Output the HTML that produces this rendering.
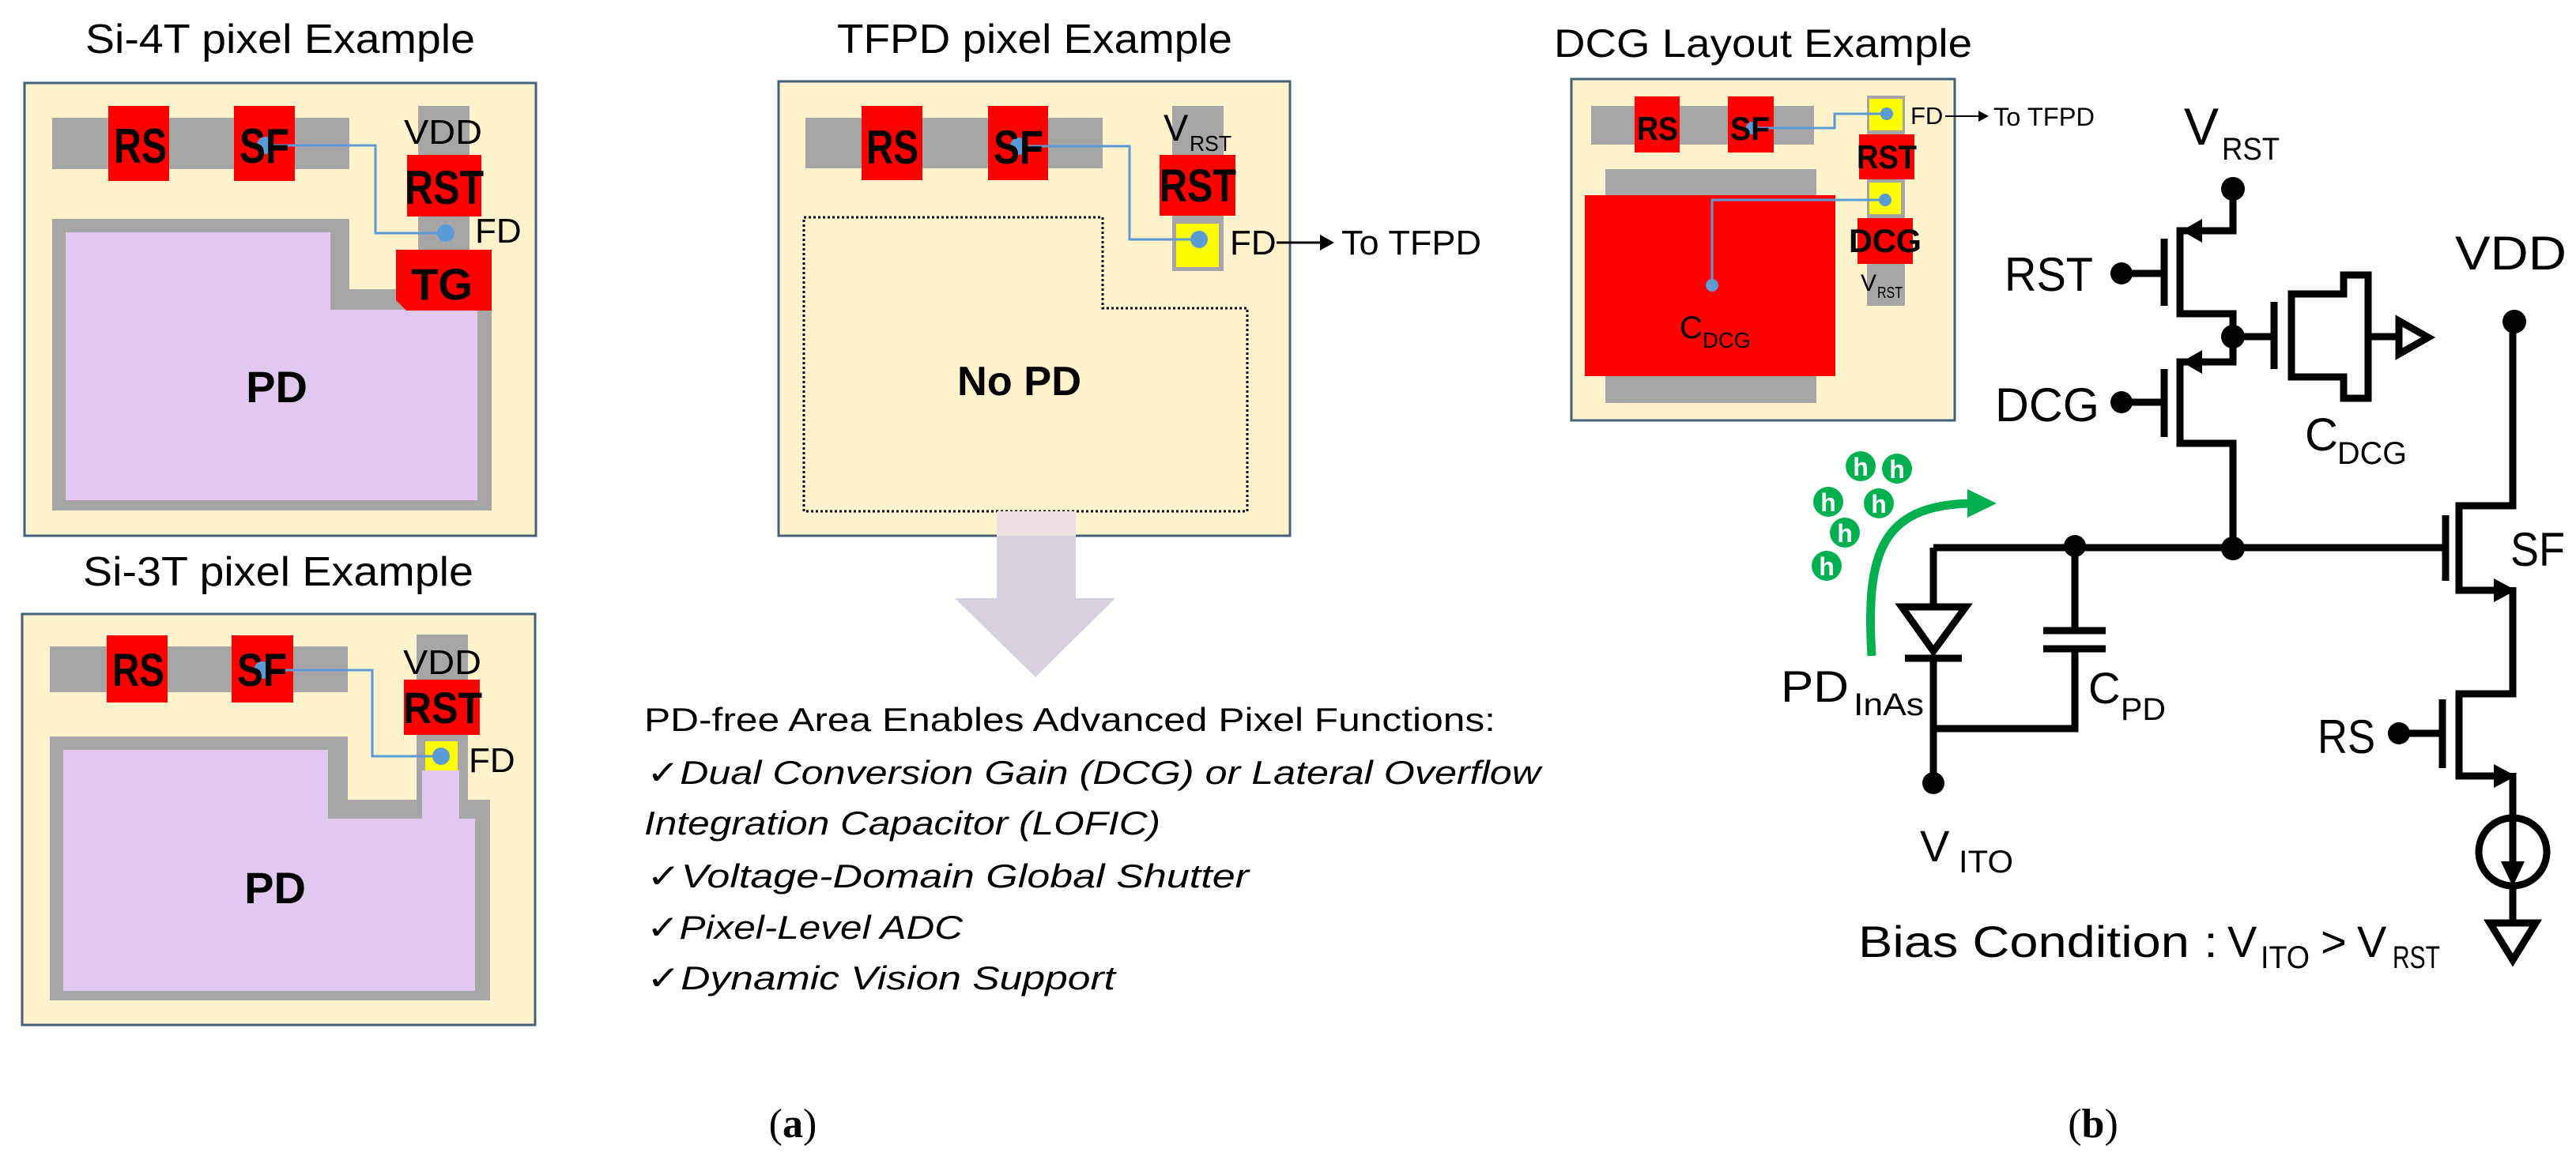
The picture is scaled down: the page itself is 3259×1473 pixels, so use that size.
<!DOCTYPE html>
<html><head><meta charset="utf-8"><style>
html,body{margin:0;padding:0;background:#fff;}
svg{display:block;}
text{font-family:"Liberation Sans","DejaVu Sans",sans-serif;fill:#000;}
.b{font-weight:bold;}
.it{font-style:italic;}
</style></head><body>
<svg width="3259" height="1473" viewBox="0 0 3259 1473" xmlns="http://www.w3.org/2000/svg">
<!-- ============ Si-4T ============ -->
<text x="108" y="67" font-size="52" textLength="493" lengthAdjust="spacingAndGlyphs">Si-4T pixel Example</text>
<rect x="31" y="105" width="647" height="573" fill="#fff2cc" stroke="#44607a" stroke-width="3"/>
<rect x="66" y="149" width="376" height="65" fill="#a6a6a6"/>
<rect x="137" y="134" width="77" height="95" fill="#ff0000"/>
<rect x="296" y="134" width="77" height="95" fill="#ff0000"/>
<rect x="529" y="134" width="65" height="182" fill="#a6a6a6"/>
<rect x="515" y="196" width="94" height="78" fill="#ff0000"/>
<polygon points="66,277 442,277 442,366 520,366 520,393 622,393 622,646 66,646" fill="#a6a6a6"/>
<polygon points="83,294 418,294 418,392 604,392 604,633 83,633" fill="#e0c8ee"/>
<polygon points="501,316 622,316 622,393 514,393 501,380" fill="#ff0000"/>
<polyline points="336,184 475,184 475,295 564,295" fill="none" stroke="#5b9bd5" stroke-width="3"/>
<circle cx="336" cy="184" r="11" fill="#5b9bd5"/><circle cx="564" cy="295" r="11" fill="#5b9bd5"/>
<text x="144" y="206" font-size="62" class="b" textLength="67" lengthAdjust="spacingAndGlyphs">RS</text>
<text x="303" y="206" font-size="62" class="b" textLength="63" lengthAdjust="spacingAndGlyphs">SF</text>
<text x="511" y="182" font-size="44" textLength="99" lengthAdjust="spacingAndGlyphs">VDD</text>
<text x="512" y="258" font-size="60" class="b" textLength="100" lengthAdjust="spacingAndGlyphs">RST</text>
<text x="601" y="307" font-size="44">FD</text>
<text x="559" y="379" font-size="56" class="b" text-anchor="middle">TG</text>
<text x="350" y="509" font-size="56" class="b" text-anchor="middle">PD</text>

<!-- ============ Si-3T ============ -->
<text x="105" y="741" font-size="52" textLength="494" lengthAdjust="spacingAndGlyphs">Si-3T pixel Example</text>
<rect x="28" y="777" width="649" height="520" fill="#fff2cc" stroke="#44607a" stroke-width="3"/>
<rect x="63" y="818" width="377" height="58" fill="#a6a6a6"/>
<rect x="135" y="804" width="77" height="85" fill="#ff0000"/>
<rect x="293" y="804" width="78" height="85" fill="#ff0000"/>
<rect x="527" y="803" width="65" height="209" fill="#a6a6a6"/>
<rect x="511" y="860" width="96" height="70" fill="#ff0000"/>
<polygon points="63,932 440,932 440,1012 620,1012 620,1266 63,1266" fill="#a6a6a6"/>
<polygon points="80,949 415,949 415,1036 534,1036 534,975 581,975 581,1036 601,1036 601,1254 80,1254" fill="#e0c8ee"/>
<rect x="538" y="938" width="41" height="37" fill="#ffff00"/>
<polyline points="332,848 471,848 471,957 558,957" fill="none" stroke="#5b9bd5" stroke-width="3"/>
<circle cx="332" cy="848" r="11" fill="#5b9bd5"/><circle cx="558" cy="957" r="11" fill="#5b9bd5"/>
<text x="142" y="868" font-size="58" class="b" textLength="66" lengthAdjust="spacingAndGlyphs">RS</text>
<text x="300" y="868" font-size="58" class="b" textLength="63" lengthAdjust="spacingAndGlyphs">SF</text>
<text x="510" y="853" font-size="44" textLength="99" lengthAdjust="spacingAndGlyphs">VDD</text>
<text x="510" y="915" font-size="56" class="b" textLength="100" lengthAdjust="spacingAndGlyphs">RST</text>
<text x="593" y="977" font-size="44">FD</text>
<text x="348" y="1143" font-size="56" class="b" text-anchor="middle">PD</text>

<!-- ============ TFPD ============ -->
<text x="1059" y="67" font-size="52" textLength="500" lengthAdjust="spacingAndGlyphs">TFPD pixel Example</text>
<rect x="985" y="103" width="647" height="575" fill="#fff2cc" stroke="#44607a" stroke-width="3"/>
<rect x="1019" y="149" width="376" height="64" fill="#a6a6a6"/>
<rect x="1090" y="134" width="77" height="94" fill="#ff0000"/>
<rect x="1250" y="134" width="76" height="94" fill="#ff0000"/>
<rect x="1483" y="134" width="65" height="209" fill="#a6a6a6"/>
<rect x="1467" y="196" width="96" height="77" fill="#ff0000"/>
<rect x="1488" y="283" width="54" height="55" fill="#ffff00"/>
<path d="M1017,275 H1395 V390 H1578 V647 H1017 Z" fill="none" stroke="#000" stroke-width="3" stroke-dasharray="3,3"/>
<polyline points="1289,185 1429,185 1429,303 1517,303" fill="none" stroke="#5b9bd5" stroke-width="3"/>
<circle cx="1289" cy="185" r="11" fill="#5b9bd5"/><circle cx="1517" cy="303" r="11" fill="#5b9bd5"/>
<text x="1096" y="207" font-size="60" class="b" textLength="66" lengthAdjust="spacingAndGlyphs">RS</text>
<text x="1257" y="207" font-size="60" class="b" textLength="63" lengthAdjust="spacingAndGlyphs">SF</text>
<text x="1467" y="255" font-size="58" class="b" textLength="97" lengthAdjust="spacingAndGlyphs">RST</text>
<text x="1472" y="178" font-size="47">V</text>
<text x="1505" y="191" font-size="28" textLength="53" lengthAdjust="spacingAndGlyphs">RST</text>
<text x="1556" y="322" font-size="44">FD</text>
<line x1="1615" y1="307" x2="1672" y2="307" stroke="#000" stroke-width="3"/>
<polygon points="1670,297 1688,307 1670,317" fill="#000"/>
<text x="1697" y="322" font-size="44" textLength="177" lengthAdjust="spacingAndGlyphs">To TFPD</text>
<text x="1211" y="500" font-size="52" class="b" textLength="157" lengthAdjust="spacingAndGlyphs">No PD</text>
<rect x="1261" y="647" width="100" height="31" fill="#eddfe1"/>
<polygon points="1261,678 1361,678 1361,757 1411,757 1310,857 1208,757 1261,757" fill="#d6d1de"/>

<!-- text list -->
<text x="815" y="925" font-size="42" textLength="1077" lengthAdjust="spacingAndGlyphs">PD-free Area Enables Advanced Pixel Functions:</text>
<text x="818" y="992" font-size="42" class="it" textLength="1131" lengthAdjust="spacingAndGlyphs">✓Dual Conversion Gain (DCG) or Lateral Overflow</text>
<text x="815" y="1056" font-size="42" class="it" textLength="653" lengthAdjust="spacingAndGlyphs">Integration Capacitor (LOFIC)</text>
<text x="818" y="1123" font-size="42" class="it" textLength="762" lengthAdjust="spacingAndGlyphs">✓Voltage-Domain Global Shutter</text>
<text x="818" y="1188" font-size="42" class="it" textLength="400" lengthAdjust="spacingAndGlyphs">✓Pixel-Level ADC</text>
<text x="818" y="1252" font-size="42" class="it" textLength="593" lengthAdjust="spacingAndGlyphs">✓Dynamic Vision Support</text>
<text x="1003" y="1439" font-size="52" text-anchor="middle" style="font-family:'Liberation Serif',serif">(<tspan font-weight="bold">a</tspan>)</text>
<text x="2648" y="1439" font-size="52" text-anchor="middle" style="font-family:'Liberation Serif',serif">(<tspan font-weight="bold">b</tspan>)</text>

<!-- ============ DCG layout ============ -->
<text x="1966" y="72" font-size="50" textLength="529" lengthAdjust="spacingAndGlyphs">DCG Layout Example</text>
<rect x="1988" y="100" width="485" height="432" fill="#fff2cc" stroke="#44607a" stroke-width="3"/>
<rect x="2013" y="134" width="282" height="49" fill="#a6a6a6"/>
<rect x="2068" y="122" width="57" height="71" fill="#ff0000"/>
<rect x="2186" y="122" width="58" height="71" fill="#ff0000"/>
<rect x="2362" y="121" width="48" height="266" fill="#a6a6a6"/>
<rect x="2365" y="125" width="42" height="40" fill="#ffff00"/>
<rect x="2352" y="170" width="70" height="57" fill="#ff0000"/>
<rect x="2365" y="231" width="40" height="40" fill="#ffff00"/>
<rect x="2350" y="276" width="70" height="58" fill="#ff0000"/>
<rect x="2031" y="214" width="267" height="296" fill="#a6a6a6"/>
<rect x="2005" y="247" width="317" height="229" fill="#ff0000"/>
<polyline points="2217,162 2321,162 2321,144 2387,144" fill="none" stroke="#5b9bd5" stroke-width="3"/>
<circle cx="2217" cy="162" r="8" fill="#5b9bd5"/><circle cx="2387" cy="144" r="8" fill="#5b9bd5"/>
<polyline points="2385,253 2166,253 2166,361" fill="none" stroke="#5b9bd5" stroke-width="3"/>
<circle cx="2385" cy="253" r="8" fill="#5b9bd5"/><circle cx="2166" cy="361" r="8" fill="#5b9bd5"/>
<text x="2071" y="177" font-size="42" class="b" textLength="52" lengthAdjust="spacingAndGlyphs">RS</text>
<text x="2189" y="177" font-size="42" class="b" textLength="50" lengthAdjust="spacingAndGlyphs">SF</text>
<text x="2349" y="213" font-size="42" class="b" textLength="76" lengthAdjust="spacingAndGlyphs">RST</text>
<text x="2339" y="319" font-size="42" class="b" textLength="92" lengthAdjust="spacingAndGlyphs">DCG</text>
<text x="2354" y="368" font-size="30">V</text>
<text x="2375" y="377" font-size="20" textLength="32" lengthAdjust="spacingAndGlyphs">RST</text>
<text x="2125" y="428" font-size="40">C</text>
<text x="2154" y="440" font-size="28" textLength="61" lengthAdjust="spacingAndGlyphs">DCG</text>
<text x="2417" y="157" font-size="31">FD</text>
<line x1="2461" y1="147" x2="2505" y2="147" stroke="#000" stroke-width="2"/>
<polygon points="2503,140 2516,147 2503,154" fill="#000"/>
<text x="2522" y="159" font-size="32" textLength="128" lengthAdjust="spacingAndGlyphs">To TFPD</text>

<!-- ============ Circuit ============ -->
<g fill="none" stroke="#000" stroke-width="9">
<path d="M2446,693 H3094"/>
<path d="M2446,693 V768"/>
<polygon points="2406,768 2487,768 2446,824"/>
<path d="M2410,833 H2482 M2446,833 V991"/>
<path d="M2625,693 V798 M2585,798 H2664 M2585,821 H2664 M2625,821 V922 H2446"/>
<path d="M2825,694 V561 H2758 V458 H2825 V426 V397 H2758 V292 H2825 V239"/>
<path d="M2738,302 V387 M2684,346 H2738 M2738,467 V553 M2684,509 H2738"/>
<path d="M2825,426 H2877 M2877,382 V467"/>
<path d="M2899,477 V372 H2965 V348 H2996 V504 H2965 V477 Z"/>
<path d="M2996,426 H3035"/>
<polygon points="3035,406 3072,427 3035,448"/>
<path d="M3179,407 V640 H3111 V747 H3170 M3179,743 V878 H3111 V982 H3170 M3179,978 V1035"/>
<path d="M3094,652 V735 M3090,885 V972 M3035,928 H3090"/>
<circle cx="3179" cy="1078" r="43"/>
<path d="M3179,1035 V1095 M3179,1121 V1168"/>
<polygon points="3150,1168 3208,1168 3179,1215"/>
</g>
<g fill="#000">
<polygon points="2760,292 2786,277 2786,307"/>
<polygon points="2760,458 2786,443 2786,473"/>
<polygon points="3183,747 3155,732 3155,762"/>
<polygon points="3183,982 3155,967 3155,997"/>
<polygon points="3164,1090 3194,1090 3179,1122"/>
<circle cx="2446" cy="991" r="14"/>
<circle cx="2625" cy="691" r="14"/>
<circle cx="2825" cy="694" r="15"/>
<circle cx="2825" cy="426" r="15"/>
<circle cx="2825" cy="239" r="15"/>
<circle cx="2684" cy="346" r="14"/>
<circle cx="2684" cy="509" r="14"/>
<circle cx="3181" cy="407" r="15"/>
<circle cx="3035" cy="928" r="14"/>
</g>
<!-- holes -->
<g fill="#00b050">
<circle cx="2354" cy="590" r="19"/><circle cx="2400" cy="593" r="19"/>
<circle cx="2313" cy="635" r="19"/><circle cx="2377" cy="637" r="19"/>
<circle cx="2334" cy="674" r="19"/><circle cx="2311" cy="716" r="19"/>
</g>
<g font-size="32" class="b" text-anchor="middle">
<text x="2354" y="602" style="fill:#fff">h</text><text x="2400" y="605" style="fill:#fff">h</text>
<text x="2313" y="647" style="fill:#fff">h</text><text x="2377" y="649" style="fill:#fff">h</text>
<text x="2334" y="686" style="fill:#fff">h</text><text x="2311" y="728" style="fill:#fff">h</text>
</g>
<path d="M2368,830 C2360,700 2380,640 2492,637" fill="none" stroke="#00b050" stroke-width="11"/>
<polygon points="2489,619 2526,637 2489,655" fill="#00b050"/>

<!-- circuit labels -->
<text x="2763" y="183" font-size="66">V</text>
<text x="2811" y="202" font-size="40" textLength="73" lengthAdjust="spacingAndGlyphs">RST</text>
<text x="2536" y="368" font-size="60" textLength="112" lengthAdjust="spacingAndGlyphs">RST</text>
<text x="2524" y="533" font-size="60" textLength="132" lengthAdjust="spacingAndGlyphs">DCG</text>
<text x="3106" y="341" font-size="60" textLength="141" lengthAdjust="spacingAndGlyphs">VDD</text>
<text x="3176" y="716" font-size="60" textLength="69" lengthAdjust="spacingAndGlyphs">SF</text>
<text x="2916" y="570" font-size="58">C</text>
<text x="2957" y="587" font-size="40" textLength="88" lengthAdjust="spacingAndGlyphs">DCG</text>
<text x="2932" y="953" font-size="60" textLength="73" lengthAdjust="spacingAndGlyphs">RS</text>
<text x="2253" y="888" font-size="56" textLength="86" lengthAdjust="spacingAndGlyphs">PD</text>
<text x="2345" y="905" font-size="40" textLength="89" lengthAdjust="spacingAndGlyphs">InAs</text>
<text x="2642" y="890" font-size="56">C</text>
<text x="2683" y="911" font-size="40" textLength="57" lengthAdjust="spacingAndGlyphs">PD</text>
<text x="2429" y="1090" font-size="56">V</text>
<text x="2478" y="1104" font-size="40" textLength="69" lengthAdjust="spacingAndGlyphs">ITO</text>
<text x="2351" y="1211" font-size="56" textLength="455" lengthAdjust="spacingAndGlyphs">Bias Condition :</text>
<text x="2818" y="1211" font-size="56">V</text>
<text x="2860" y="1225" font-size="40" textLength="62" lengthAdjust="spacingAndGlyphs">ITO</text>
<text x="2936" y="1211" font-size="56">&gt;</text>
<text x="2982" y="1211" font-size="56">V</text>
<text x="3027" y="1225" font-size="40" textLength="60" lengthAdjust="spacingAndGlyphs">RST</text>
</svg>
</body></html>
